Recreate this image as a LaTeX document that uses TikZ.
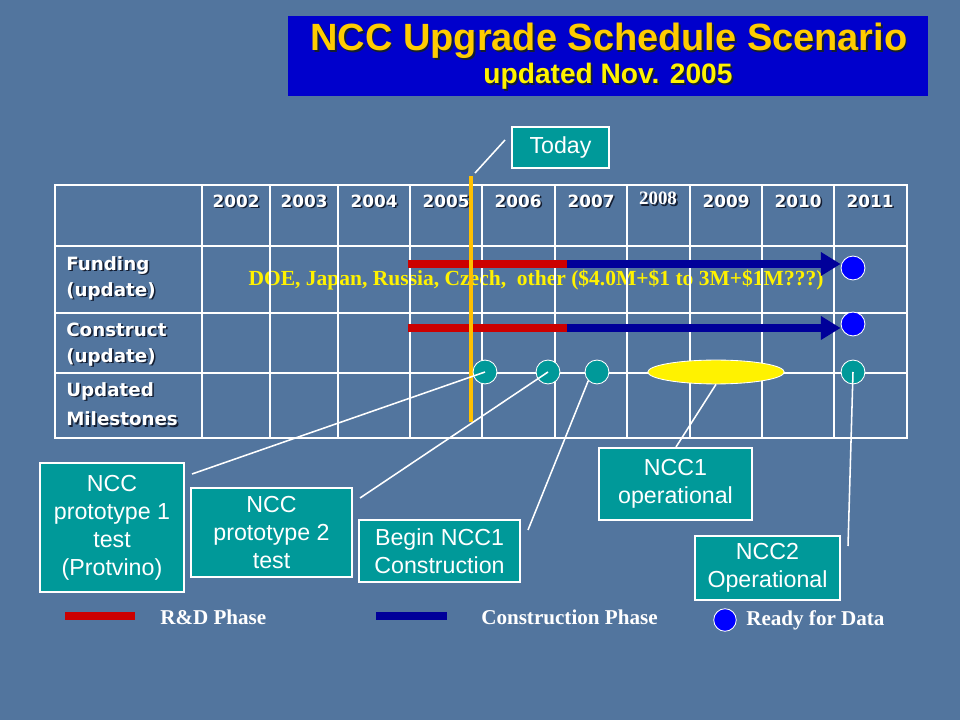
\documentclass[tikz,border=0pt]{standalone}
\usepackage{fontspec}
\setmainfont{Liberation Serif}
\setsansfont{Liberation Sans}
\newfontfamily\verdfont{DejaVu Sans}
\usepackage{tikz}
\usetikzlibrary{positioning,shapes.geometric,arrows.meta}
\usepackage{xcolor}
\definecolor{slidebg}{RGB}{82,117,158}
\definecolor{titlebg}{RGB}{0,0,204}
\definecolor{titlegold}{RGB}{255,204,0}
\definecolor{shadowc}{RGB}{20,30,50}
\definecolor{ncteal}{RGB}{0,153,153}
\definecolor{rdred}{RGB}{204,0,0}
\definecolor{conblue}{RGB}{0,0,153}
\definecolor{readyblue}{RGB}{0,0,255}
\definecolor{todayorange}{RGB}{255,192,0}
\newcommand\shd[1]{\rlap{\kern1.2pt\raisebox{-1.2pt}{\color{shadowc}#1}}#1}

\begin{document}
\begin{tikzpicture}[x=0.025cm,y=-0.025cm,
	grid/.style={white, line width=2pt, line cap=rect},
	yearlbl/.style={text=white, font=\verdfont\bfseries\fontsize{12}{14}\selectfont, inner sep=0pt},
	rowlbl/.style={text=white, anchor=west, align=left, inner sep=0pt, font=\verdfont\bfseries\fontsize{13}{18.5}\selectfont},
	rdbar/.style={rdred, line width=5pt},
	cbar/.style={conblue, line width=5pt},
	ready/.style={circle, fill=readyblue, draw=white, line width=0.6pt, minimum size=17pt, inner sep=0pt},
	mile/.style={circle, fill=ncteal, draw=white, line width=0.6pt, minimum size=17pt, inner sep=0pt},
	tealbox/.style={fill=ncteal, draw=white, line width=1.4pt, text=white, align=center, inner sep=0pt, font=\sffamily\fontsize{16.5}{20}\selectfont},
	callout/.style={white, line width=1.1pt},
	legendtxt/.style={text=white, anchor=west, inner sep=0pt, font=\bfseries\fontsize{15}{17}\selectfont}]
\fill[slidebg] (0,0) rectangle (960,720);
\useasboundingbox (0,0) rectangle (960,720);

\fill[titlebg] (288,16) rectangle (928,96);
\node[text=titlegold, font=\sffamily\bfseries\fontsize{27}{30}\selectfont] (title) at (609,42) {\shd{NCC Upgrade Schedule Scenario}};
\node[text=yellow, font=\sffamily\bfseries\fontsize{20}{24}\selectfont] (subtitle) at (608,77) {\shd{updated Nov. 2005}};

\node[text=yellow, font=\bfseries\fontsize{15.3}{17}\selectfont, inner sep=0pt] (doe) at (536,280) {DOE, Japan, Russia, Czech,~ other (\$4.0M+\$1 to 3M+\$1M???)};

\foreach \x in {55,202,270,338,410,482,555,627,690,762,834,907}
	\draw[grid] (\x,185) -- (\x,438);
\foreach \y in {185,246,313,373,438}
	\draw[grid] (55,\y) -- (907,\y);

\foreach \yr/\x in {2002/236,2003/304,2004/374,2005/446,2006/518,2007/591,2009/726,2010/798,2011/870}
	\node[yearlbl] (y\yr) at (\x,202) {\shd{\yr}};
\node[yearlbl, font=\bfseries\fontsize{13.5}{15}\selectfont] (y2008) at (658,199) {\shd{2008}};

\node[rowlbl] (funding) at (66,279) {\shd{Funding}\\\shd{(update)}};
\node[rowlbl] (construct) at (66,345) {\shd{Construct}\\\shd{(update)}};
\node[rowlbl, font=\verdfont\bfseries\fontsize{13}{21}\selectfont] (updated) at (66,405) {\shd{Updated}\\\shd{Milestones}};

\node[ready] (r1) at (853,268) {};
\node[ready] (r2) at (853,324) {};
\coordinate (f0) at (408,264);
\coordinate (f1) at (567,264);
\coordinate (k0) at (408,328);
\coordinate (k1) at (567,328);
\draw[rdbar] (f0) -- (f1);
\draw[cbar, -{Triangle[length=14pt,width=16pt]}] (f1) -- (r1.west |- f1);
\draw[rdbar] (k0) -- (k1);
\draw[cbar, -{Triangle[length=14pt,width=16pt]}] (k1) -- (r2.west |- k1);

\draw[todayorange, line width=3pt] (471,176) -- (471,422);
\node[tealbox, minimum width=69pt, minimum height=29pt] (today) at (560.5,147.5) {Today};
\coordinate (t0) at (475,173);
\coordinate (t1) at (505,140);
\draw[callout] (t0) -- (t1);

\node[mile] (m1) at (485,372) {};
\node[mile] (m2) at (548,372) {};
\node[mile] (m3) at (597,372) {};
\node[ellipse, fill=yellow, draw=white, line width=0.6pt, minimum width=97pt, minimum height=17pt, inner sep=0pt] (op1) at (716,372) {};
\node[mile] (m5) at (853,372) {};

\node[tealbox, minimum width=102.4pt, minimum height=91.8pt] (b1) at (112,527.5) {NCC\\prototype 1\\test\\(Protvino)};
\node[tealbox, minimum width=114.5pt, minimum height=63.3pt] (b2) at (271.5,532.5) {NCC\\prototype 2\\test};
\node[tealbox, minimum width=114.5pt, minimum height=44pt] (b3) at (439.5,551) {Begin NCC1\\Construction};
\node[tealbox, minimum width=108.8pt, minimum height=51.2pt] (b4) at (675.5,484) {NCC1\\operational};
\node[tealbox, minimum width=103pt, minimum height=45.5pt] (b5) at (767.5,568) {NCC2\\Operational};

\coordinate (c1) at (192,474);
\coordinate (c2) at (360,498);
\coordinate (c3) at (528,530);
\coordinate (c4) at (676,447);
\coordinate (c5) at (848,546);
\draw[callout] (c1) -- (m1.center);
\draw[callout] (c2) -- (m2.center);
\draw[callout] (c3) -- (m3.south west);
\draw[callout] (c4) -- (op1.south);
\draw[callout] (c5) -- (m5.center);

\coordinate (l0) at (65,616);
\coordinate (l1) at (135,616);
\draw[rdbar] (l0) -- (l1);
\node[legendtxt] (rdtxt) at (160,617) {R\&D Phase};
\coordinate (l2) at (376,616);
\coordinate (l3) at (447,616);
\draw[cbar] (l2) -- (l3);
\node[legendtxt] (contxt) at (481,617) {Construction Phase};
\node[ready, minimum size=16pt] (rlegend) at (725,620) {};
\node[legendtxt] (readytxt) at (746,620) {Ready for Data};
\end{tikzpicture}
\end{document}
